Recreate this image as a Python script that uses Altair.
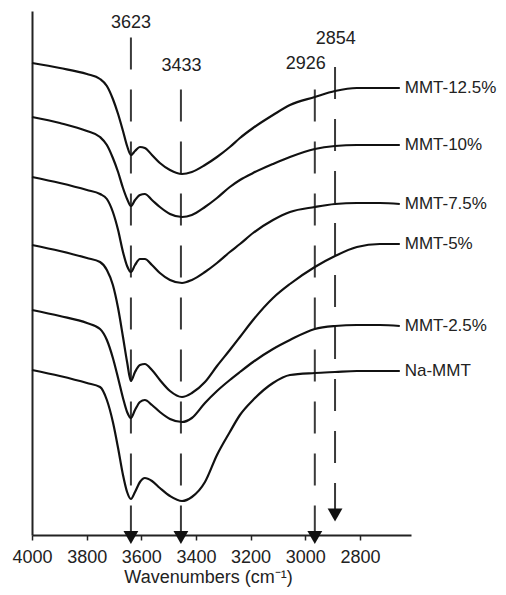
import altair as alt
import pandas as pd

# ---- data ----
wavenumbers = [4000, 3898, 3799, 3751, 3726, 3704, 3685, 3667, 3652, 3638,
               3623, 3605, 3587, 3561, 3532, 3495, 3451, 3415, 3367, 3323,
               3276, 3239, 3191, 3118, 3056, 2965, 2891, 2811, 2727, 2654]

samples = ["MMT-12.5%", "MMT-10%", "MMT-7.5%", "MMT-5%", "MMT-2.5%", "Na-MMT"]

t_mmt125 = [236, 233.5, 230.5, 228, 224.5, 218, 210.5, 202, 194.5, 190,
            192, 194, 193.5, 190, 186, 182.5, 180.5, 181.5, 185, 189,
            194, 198.5, 203.5, 210, 215, 219, 222, 223.5, 223.5, 223.5]
t_mmt10 = [209, 206, 202, 199, 195, 188.5, 181.5, 173.5, 168, 164.5,
           167.5, 170, 170.5, 167.5, 164, 160.5, 159, 160, 164, 168.5,
           174, 177.5, 181, 185.5, 189, 193, 194.5, 195, 195, 195]
t_mmt75 = [179, 176, 172.5, 170.5, 168, 161.5, 152.5, 141.5, 134.5, 131.5,
           135, 138, 138, 135, 131, 127.5, 126, 127.5, 131.5, 136,
           141.5, 145.5, 151, 157.5, 161.5, 164, 165.5, 166, 166, 165.5]
t_mmt5 = [145, 142, 138.5, 136.5, 132.5, 125, 113.5, 99, 86.5, 77,
          81.5, 85, 85.5, 82.5, 77.5, 72, 69, 71, 76.5, 84.5,
          92.5, 99, 107.5, 118.5, 125.5, 134, 139.5, 144, 145.5, 145.5]
t_mmt25 = [112.5, 109.5, 106, 103, 97.5, 88.5, 78.5, 68.5, 61.5, 58.5,
           62.5, 66.5, 67.5, 65, 61.5, 58, 56.5, 58.5, 66, 72,
           77.5, 81.5, 86.5, 93, 97.5, 103, 104.5, 105, 105, 104.5]
t_namt = [82.5, 79.5, 76, 74, 67.5, 56.5, 43.5, 30, 21.5, 18,
          21.5, 26.5, 28.5, 27, 23.5, 19.5, 17, 19, 26.5, 40,
          51.5, 60, 67.5, 76, 80, 81, 81.5, 82, 82, 82]

series_values = [t_mmt125, t_mmt10, t_mmt75, t_mmt5, t_mmt25, t_namt]

peak_labels = ["3623", "3433", "2926", "2854"]
peak_line_x = [3638, 3455, 2965, 2891]
peak_label_x = [3638, 3453, 2998, 2888]
peak_label_y = [256, 234.5, 235.5, 248]
peak_line_top = [251.5, 229, 229.5, 243]
arrow_y = [-1.25, -1.25, -1.25, 10]

sample_label_x = 2636
x_ticks = [4000, 3800, 3600, 3400, 3200, 3000, 2800]

# ---- tables ----
rows = []
for name, vals in zip(samples, series_values):
    for i, (w, t) in enumerate(zip(wavenumbers, vals)):
        rows.append({"sample": name, "idx": i, "wn": w, "t": t})
spectra = pd.DataFrame(rows)

end_labels = pd.DataFrame({
    "sample": samples,
    "wn": [sample_label_x] * len(samples),
    "t": [v[-1] for v in series_values],
})

peaks = pd.DataFrame({
    "label": peak_labels,
    "wn": peak_line_x,
    "lx": peak_label_x,
    "ly": peak_label_y,
    "top": peak_line_top,
    "ay": arrow_y,
})

FONT = "Liberation Sans"
TITLE = "Wavenumbers (cm\u207b\u00b9)"

xscale = alt.Scale(domain=[2613, 4000], reverse=True, nice=False, zero=False)
yscale = alt.Scale(domain=[0, 262], nice=False, zero=False)
xaxis = alt.Axis(values=x_ticks, title=TITLE, format="d",
                 grid=False, tickSize=5, labelPadding=8,
                 labelFlush=False, labelOverlap=False,
                 titleX=176, titleY=47, titleBaseline="alphabetic",
                 titleAnchor="start", titleAlign="center")
yaxis = alt.Axis(labels=False, ticks=False, title=None, grid=False)


def X(field):
    return alt.X(field, type="quantitative", scale=xscale, axis=xaxis, title=TITLE)


def Y(field):
    return alt.Y(field, type="quantitative", scale=yscale, axis=yaxis)


lines = alt.Chart(spectra).mark_line(
    color="#111", strokeWidth=2.2, interpolate="monotone"
).encode(x=X("wn"), y=Y("t"), detail="sample:N", order="idx:Q")

rules = alt.Chart(peaks).mark_rule(
    color="#3a3a3a", strokeWidth=2, strokeDash=[32, 20]
).encode(x=X("wn"), y=Y("ay"), y2="top")

arrows = alt.Chart(peaks).mark_point(
    shape="triangle-down", filled=True, size=220, color="#111", opacity=1
).encode(x=X("wn"), y=Y("ay"))

peak_text = alt.Chart(peaks).mark_text(
    font=FONT, fontSize=18, color="#222", align="center", baseline="middle"
).encode(x=X("lx"), y=Y("ly"), text="label:N")

sample_text = alt.Chart(end_labels).mark_text(
    font=FONT, fontSize=17, color="#222", align="left", baseline="middle"
).encode(x=X("wn"), y=Y("t"), text="sample:N")

chart = alt.layer(rules, lines, arrows, peak_text, sample_text).properties(
    width=379, height=524,
    padding={"left": 24, "top": 3, "right": 87, "bottom": 52},
    autosize=alt.AutoSizeParams(type="none"),
).configure_view(stroke=None).configure_axis(
    domainColor="#222", domainWidth=2, tickColor="#222", tickWidth=1.5,
    labelFont=FONT, labelFontSize=18, labelColor="#222",
    titleFont=FONT, titleFontSize=18, titleFontWeight="normal", titleColor="#222",
)

chart.save("out.html", embed_options={"renderer": "svg", "actions": False})
